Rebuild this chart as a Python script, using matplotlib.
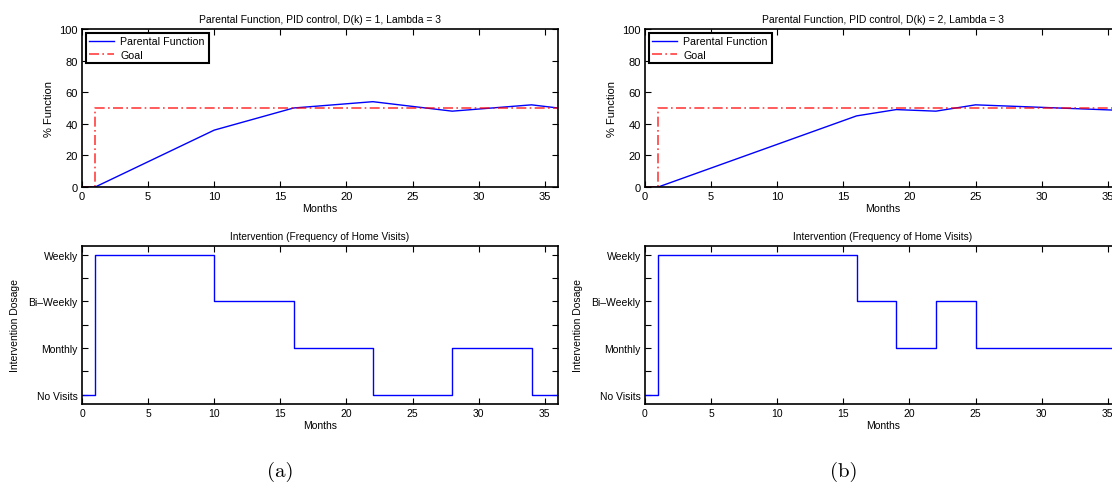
import matplotlib
matplotlib.use("Agg")
import matplotlib.pyplot as plt
import numpy as np

plt.rcParams['font.family'] = ['Liberation Sans', 'DejaVu Sans']

# panel (a): D(k) = 1
months_a = [0, 1, 10, 16, 22, 28, 34, 36]
function_a = [0, 0, 36, 50, 54, 48, 52, 50]
dose_months_a = [0, 1, 10, 16, 22, 28, 34, 36]
dose_a = [0, 3, 2, 1, 0, 1, 0, 0]

# panel (b): D(k) = 2
months_b = [0, 1, 16, 19, 22, 25, 36]
function_b = [0, 0, 45, 49, 48, 52, 48.5]
dose_months_b = [0, 1, 16, 19, 22, 25, 36]
dose_b = [0, 3, 2, 1, 2, 1, 1]

goal_start = 1
goal_level = 50
month_end = 36

dose_labels = ['No Visits', 'Monthly', 'Bi\u2013Weekly', 'Weekly']
titles = ['Parental Function, PID control, D(k) = 1, Lambda = 3',
          'Parental Function, PID control, D(k) = 2, Lambda = 3']
panel_tags = ['(a)', '(b)']

W, H = 1112, 489
fig = plt.figure(figsize=(W / 100, H / 100), dpi=100)


def style_axes(ax, size):
    for s in ax.spines.values():
        s.set_linewidth(1.2)
        s.set_color('black')
    ax.tick_params(which='both', direction='in', top=True, right=True,
                   length=4, width=0.8, labelsize=size, pad=3)


def draw_panel(left, months, func, dose_months, dose, title, tag):
    # top: parental function vs goal
    ax1 = fig.add_axes([left / W, 1 - 188 / H, 476 / W, 158 / H])
    ax1.plot(months, func, color='blue', lw=1.0, label='Parental Function')
    gx = [0, goal_start, goal_start, month_end]
    gy = [0, 0, goal_level, goal_level]
    ax1.plot(gx, gy, color='red', lw=1.2, ls=(0, (6, 2, 1, 2)), alpha=0.75,
             label='Goal')
    ax1.set_xlim(0, month_end)
    ax1.set_ylim(0, 100)
    ax1.set_xticks(np.arange(0, 36, 5))
    ax1.set_yticks(np.arange(0, 101, 20))
    style_axes(ax1, 8)
    ax1.set_title(title, fontsize=7.5, pad=5)
    ax1.set_xlabel('Months', fontsize=7.7, labelpad=1)
    ax1.set_ylabel('% Function', fontsize=8, labelpad=4)
    leg = ax1.legend(loc='upper left', fontsize=7.7, fancybox=False,
                     framealpha=1, edgecolor='black', borderaxespad=0.35,
                     handlelength=2.3, borderpad=0.35, labelspacing=0.3,
                     handletextpad=0.6)
    leg.get_frame().set_linewidth(1.5)

    # bottom: intervention dosage
    ax2 = fig.add_axes([left / W, 1 - 405 / H, 476 / W, 158.5 / H])
    ax2.plot(dose_months, dose, color='blue', lw=1.0, drawstyle='steps-post')
    ax2.set_xlim(0, month_end)
    ax2.set_ylim(-0.2, 3.2)
    ax2.set_xticks(np.arange(0, 36, 5))
    ax2.set_yticks(range(len(dose_labels)))
    ax2.set_yticklabels(dose_labels)
    ax2.set_yticks([0.5, 1.5, 2.5], minor=True)
    style_axes(ax2, 7.5)
    ax2.set_title('Intervention (Frequency of Home Visits)', fontsize=7.3, pad=5)
    ax2.set_xlabel('Months', fontsize=7.5, labelpad=1)
    ax2.set_ylabel('Intervention Dosage', fontsize=7.5, labelpad=6)

    # caption under the panel, centred under month 15
    cx = left + 15 * 476 / month_end
    fig.text(cx / W, 1 - 472 / H, tag, fontsize=15, family='cmr10',
             ha='center', va='center')


draw_panel(82, months_a, function_a, dose_months_a, dose_a, titles[0], panel_tags[0])
draw_panel(645, months_b, function_b, dose_months_b, dose_b, titles[1], panel_tags[1])

fig.savefig('out.png', dpi=100)
